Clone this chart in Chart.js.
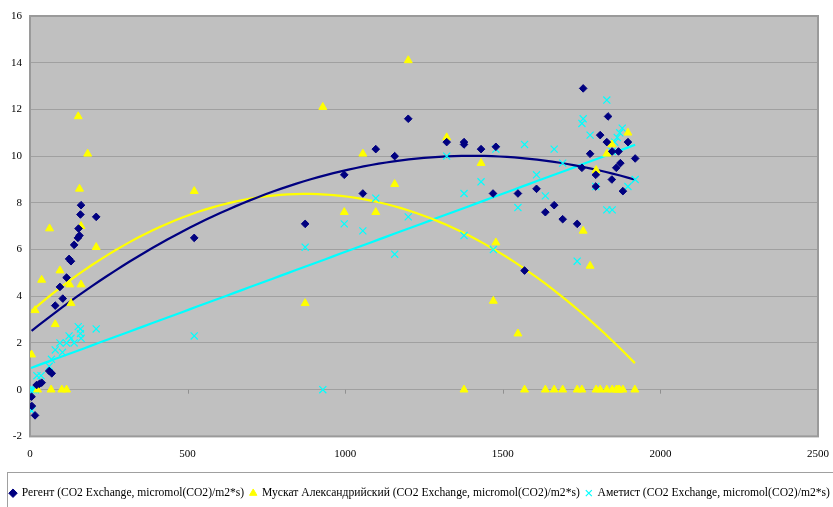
<!DOCTYPE html>
<html>
<head>
<meta charset="utf-8">
<script src="https://cdn.jsdelivr.net/npm/chart.js@4"></script>
<style>
  body { margin: 0; background: #ffffff; }
  #chart { display: block; }
</style>
</head>
<body>
<canvas id="chart" width="833" height="507"></canvas>
<script>
// series values: x = light, y = CO2 exchange
const regentX = [5, 6, 16, 21, 30, 37, 61, 69, 80, 95, 104, 116, 124, 130, 140, 152, 154, 157, 160, 162, 210, 521,
    873, 997, 1056, 1097, 1157, 1200, 1322, 1377, 1377, 1431, 1469, 1478,
    1548, 1569, 1607, 1635, 1663, 1690, 1736, 1751, 1755, 1777, 1795, 1795, 1809, 1830, 1834, 1846, 1847, 1860, 1867, 1873, 1881, 1897, 1920];
const regentY = [-0.3, -0.7, -1.1, 0.2, 0.25, 0.3, 0.8, 0.7, 3.6, 4.4, 3.9, 4.8, 5.6, 5.5, 6.2, 6.5, 6.9, 6.6, 7.5, 7.9, 7.4, 6.5,
    7.1, 9.2, 8.4, 10.3, 10.0, 11.6, 10.6, 10.6, 10.5, 10.3, 8.4, 10.4,
    8.4, 5.1, 8.6, 7.6, 7.9, 7.3, 7.1, 9.5, 12.9, 10.1, 9.2, 8.7, 10.9, 10.6, 11.7, 9.0, 10.2, 9.5, 10.2, 9.7, 8.5, 10.6, 9.9];

const muscatX = [5, 16, 24, 37, 62, 67, 80, 95, 101, 116, 126, 130, 153, 157, 162, 162, 183, 210, 521,
    873, 929, 997, 1056, 1097, 1157, 1200, 1322, 1377, 1431, 1470, 1478,
    1548, 1569, 1635, 1663, 1690, 1736, 1751, 1755, 1777, 1796, 1796, 1809, 1830, 1830, 1846, 1847, 1860, 1866, 1870, 1881, 1897, 1919];
const muscatY = [1.5, 3.4, 0, 4.7, 6.9, 0, 2.8, 5.1, 0, 0, 4.5, 3.7, 11.7, 8.6, 7.0, 4.5, 10.1, 6.1, 8.5,
    3.7, 12.1, 7.6, 10.1, 7.6, 8.8, 14.1, 10.8, 0, 9.7, 3.8, 6.3,
    2.4, 0, 0, 0, 0, 0, 0, 6.8, 5.3, 0, 9.4, 0, 0, 10.1, 10.5, 0, 0, 0, 0, 0, 11.0, 0];

const ametistX = [3, 10, 17, 5, 22, 35, 61, 68, 80, 95, 103, 116, 124, 130, 140, 153, 160, 160, 162, 210, 521,
    873, 929, 997, 1056, 1097, 1157, 1200, 1322, 1377, 1377, 1431, 1470, 1478,
    1548, 1569, 1607, 1635, 1663, 1690, 1736, 1751, 1755, 1777, 1795, 1830, 1830, 1847, 1847, 1855, 1863, 1871, 1879, 1897, 1920];
const ametistY = [0, 0, 0, -0.9, 0.6, 0.6, 1.0, 1.3, 1.7, 2.0, 1.6, 2.0, 2.3, 2.2, 2.0, 2.7, 2.6, 2.4, 2.2, 2.6, 2.3,
    6.1, 0, 7.1, 6.8, 8.2, 5.8, 7.4, 10.0, 8.4, 6.6, 8.9, 6.0, 10.3,
    7.8, 10.5, 9.2, 8.3, 10.3, 9.7, 5.5, 11.4, 11.6, 10.9, 8.7, 12.4, 7.7, 7.7, 10.2, 10.6, 10.8, 11.0, 11.2, 8.7, 9.0];

const seriesNames = [
    'Регент (CO2 Exchange, micromol(CO2)/m2*s)',
    'Мускат Александрийский (CO2 Exchange, micromol(CO2)/m2*s)',
    'Аметист (CO2 Exchange, micromol(CO2)/m2*s)'
];
const xTicks = [0, 500, 1000, 1500, 2000, 2500];
const yTicks = [-2, 0, 2, 4, 6, 8, 10, 12, 14, 16];

function toPoints(xs, ys) {
    return xs.map((x, i) => ({ x: x, y: ys[i] }));
}

// least squares polynomial fit, like the spreadsheet trendline
function polyFit(xs, ys, order) {
    const n = order + 1;
    const m = [];
    for (let r = 0; r < n; r++) {
        m.push(new Array(n + 1).fill(0));
    }
    for (let i = 0; i < xs.length; i++) {
        for (let r = 0; r < n; r++) {
            for (let c = 0; c < n; c++) m[r][c] += Math.pow(xs[i], r + c);
            m[r][n] += ys[i] * Math.pow(xs[i], r);
        }
    }
    for (let k = 0; k < n; k++) {
        let p = k;
        for (let r = k + 1; r < n; r++) if (Math.abs(m[r][k]) > Math.abs(m[p][k])) p = r;
        [m[k], m[p]] = [m[p], m[k]];
        for (let r = 0; r < n; r++) {
            if (r === k) continue;
            const f = m[r][k] / m[k][k];
            for (let c = k; c <= n; c++) m[r][c] -= f * m[k][c];
        }
    }
    return m.map((row, k) => row[n] / row[k]);
}

function trendPoints(xs, ys, order) {
    const coef = polyFit(xs, ys, order);
    const lo = Math.min(...xs), hi = Math.max(...xs);
    const pts = [];
    for (let i = 0; i <= 80; i++) {
        const x = lo + (hi - lo) * i / 80;
        let y = 0;
        coef.forEach((c, k) => { y += c * Math.pow(x, k); });
        pts.push({ x: x, y: y });
    }
    return pts;
}

const plotFrame = {
    id: 'plotFrame',
    afterLayout(chart) {
        // nudge the legend row a little right and down, like the original
        chart.legend.left += 4;
        chart.legend.right += 8;
        chart.legend.top += 2;
        chart.legend.bottom += 2;
    },
    beforeDraw(chart) {
        const { ctx, chartArea: a } = chart;
        ctx.save();
        ctx.fillStyle = '#c0c0c0';
        ctx.fillRect(a.left, a.top, a.right - a.left, a.bottom - a.top);
        ctx.restore();
    },
    beforeDatasetsDraw(chart) {
        const { ctx, chartArea: a, scales } = chart;
        ctx.save();
        ctx.strokeStyle = '#9a9a9a';
        ctx.lineWidth = 2;
        ctx.strokeRect(a.left, a.top, a.right - a.left, a.bottom - a.top);
        // small tick marks on the axis line at y = 0
        const y0 = scales.y.getPixelForValue(0);
        ctx.strokeStyle = '#909090';
        ctx.lineWidth = 1;
        xTicks.slice(1, -1).forEach(v => {
            const px = Math.round(scales.x.getPixelForValue(v)) + 0.5;
            ctx.beginPath();
            ctx.moveTo(px, y0);
            ctx.lineTo(px, y0 + 4);
            ctx.stroke();
        });
        ctx.restore();
    },
    afterDraw(chart) {
        const { ctx, legend } = chart;
        ctx.save();
        ctx.strokeStyle = '#a0a0a0';
        ctx.lineWidth = 1;
        ctx.strokeRect(7.5, Math.round(legend.top) - 8.5, chart.width, 60);
        ctx.restore();
    }
};

const ctx = document.getElementById('chart').getContext('2d');

new Chart(ctx, {
    type: 'scatter',
    data: {
        datasets: [
            {
                label: seriesNames[0],
                data: toPoints(regentX, regentY),
                pointStyle: 'rectRot',
                pointRadius: 3.8,
                backgroundColor: '#000080',
                borderColor: '#000080',
                borderWidth: 1
            },
            {
                label: seriesNames[1],
                data: toPoints(muscatX, muscatY),
                pointStyle: 'triangle',
                pointRadius: 4.6,
                backgroundColor: '#ffff00',
                borderColor: '#ffff00',
                borderWidth: 1
            },
            {
                label: seriesNames[2],
                data: toPoints(ametistX, ametistY),
                pointStyle: 'crossRot',
                pointRadius: 5,
                backgroundColor: '#00ffff',
                borderColor: '#00ffff',
                borderWidth: 1.2
            },
            {
                label: 'trend-regent',
                type: 'line',
                data: trendPoints(regentX, regentY, 2),
                borderColor: '#000080',
                borderWidth: 2.2,
                pointRadius: 0,
                fill: false
            },
            {
                label: 'trend-muscat',
                type: 'line',
                data: trendPoints(muscatX, muscatY, 2),
                borderColor: '#ffff00',
                borderWidth: 2.2,
                pointRadius: 0,
                fill: false
            },
            {
                label: 'trend-ametist',
                type: 'line',
                data: trendPoints(ametistX, ametistY, 1),
                borderColor: '#00ffff',
                borderWidth: 2.2,
                pointRadius: 0,
                fill: false
            }
        ]
    },
    options: {
        responsive: false,
        animation: false,
        layout: { padding: { top: 16, right: 0, left: 0, bottom: 0 } },
        plugins: {
            tooltip: { enabled: false },
            legend: {
                position: 'bottom',
                align: 'start',
                labels: {
                    usePointStyle: true,
                    boxWidth: 6,
                    boxHeight: 6,
                    padding: 6,
                    color: '#000000',
                    font: { family: 'Liberation Serif', size: 11.6 },
                    filter: item => item.datasetIndex < 3
                }
            }
        },
        scales: {
            x: {
                type: 'linear',
                min: 0,
                max: 2500,
                afterBuildTicks: s => { s.ticks = xTicks.map(v => ({ value: v })); },
                afterFit: s => { s.height = 43; s.paddingRight = 15; },
                grid: { display: false, drawTicks: false },
                border: { display: false },
                ticks: {
                    padding: 11,
                    maxRotation: 0,
                    color: '#000000',
                    font: { family: 'Liberation Serif', size: 11 },
                    callback: v => String(v)
                }
            },
            y: {
                type: 'linear',
                min: -2,
                max: 16,
                afterBuildTicks: s => { s.ticks = yTicks.map(v => ({ value: v })); },
                afterFit: s => { s.width = 30; },
                grid: { color: '#a0a0a0', lineWidth: 1, drawTicks: false },
                border: { display: false },
                ticks: {
                    padding: 8,
                    color: '#000000',
                    font: { family: 'Liberation Serif', size: 11 }
                }
            }
        }
    },
    plugins: [plotFrame]
});
</script>
</body>
</html>
